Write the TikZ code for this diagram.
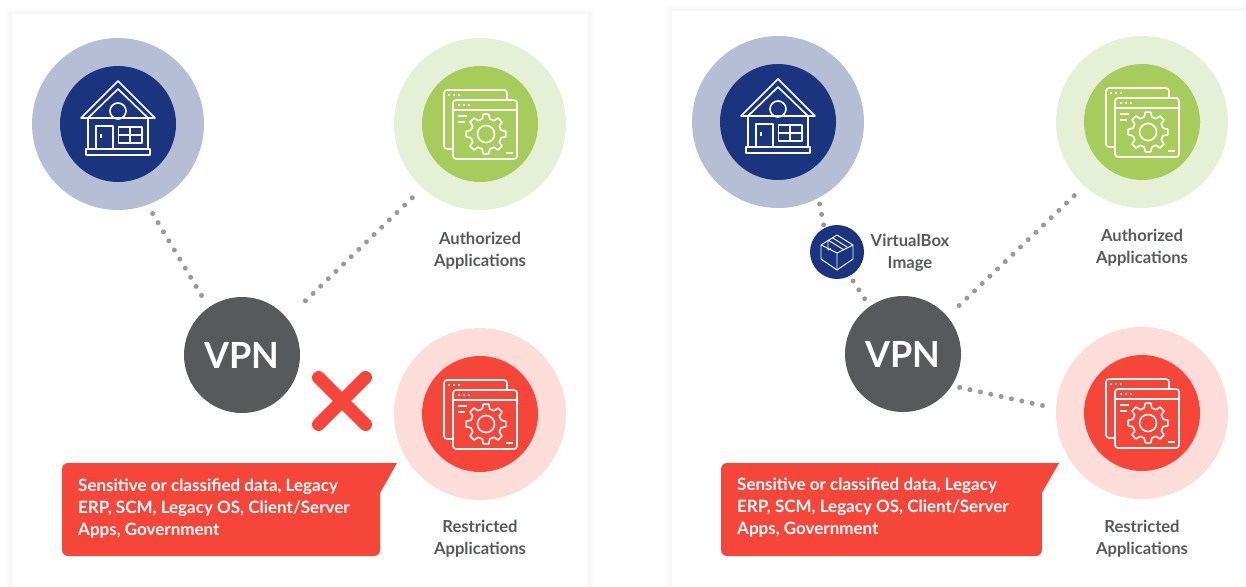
\documentclass[tikz,border=0pt]{standalone}
\usepackage{fontspec}
\setmainfont{Lato}
\definecolor{navy}{HTML}{1B3480}
\definecolor{navylight}{HTML}{B5BED4}
\definecolor{appgreen}{HTML}{A8CC5C}
\definecolor{greenlight}{HTML}{E6F0D6}
\definecolor{appred}{HTML}{F64539}
\definecolor{redlight}{HTML}{FCDDDA}
\definecolor{vpngray}{HTML}{58595B}
\definecolor{dotgray}{HTML}{999999}
\tikzset{
	ring/.style={circle, minimum size=172pt, inner sep=0pt, fill=#1},
	disc/.style={circle, minimum size=116pt, inner sep=0pt, fill=#1},
	vpnnode/.style={circle, minimum size=116pt, inner sep=0pt, fill=vpngray, text=white, font=\bfseries\fontsize{36}{40}\selectfont},
	boxnode/.style={circle, minimum size=54pt, inner sep=0pt, fill=navy},
	dots/.style={line width=5pt, line cap=round, dash pattern=on 0pt off 10.6pt, dotgray},
	caption/.style={align=center, inner sep=0pt, text=vpngray, font=\bfseries\fontsize{16.6}{22}\selectfont},
	notetext/.style={anchor=west, align=left, inner sep=0pt, text=white, font=\bfseries\fontsize{17}{22}\selectfont},
	icon/.style={white, line width=1.6pt, line join=round},
	pics/house/.style={code={
		\draw[icon] (-37,-6) -- (0,-43) -- (37,-6) -- cycle;
		\draw[icon] (-30,-6) -- (0,-35) -- (30,-6);
		\draw[icon] (-30,-6) -- (-30,25);
		\draw[icon] (30,-6) -- (30,25);
		\draw[icon] (-32,25) rectangle (32,31);
		\draw[icon] (-22,25) -- (-22,2) -- (-5,2) -- (-5,25);
		\draw[icon] (-17,10) -- (-17,14);
		\draw[icon] (0.5,3) rectangle (24,19);
		\draw[icon] (0.5,11) -- (24,11) (12,3) -- (12,19);
		\draw[icon] (0,-13) circle (8);
	}},
	pics/apps/.style={code={
		% back window
		\draw[icon, rounded corners=3pt] (-27,25) -- (-36,25) -- (-36,-34) -- (27,-34) -- (27,-24);
		\foreach \x in {-31,-26,-21} \fill[white] (\x,-29) circle (1.1);
		% front window
		\draw[icon, rounded corners=3pt] (-27,-24) rectangle (37,35);
		\draw[icon] (-27,-14) -- (37,-14);
		\foreach \x in {-21,-16,-11} \fill[white] (\x,-19) circle (1.1);
		\draw[icon] (-22,-8) -- (-13,-8) (-22,-2) -- (-15,-2) (26,29) -- (33,29);
		% gear
		\begin{scope}[shift={(6,10)}]
			\foreach \a in {0,45,...,315}
				\draw[icon] (\a-14:15.5) -- (\a-8:20) -- (\a+8:20) -- (\a+14:15.5) -- (\a+31:15.5);
			\draw[icon] (0,0) circle (8.5);
		\end{scope}
	}},
	pics/package/.style={code={
		\draw[white, line width=0.9pt, line join=round] (0,-17) -- (16,-7) -- (16,7) -- (0,18) -- (-16,7) -- (-16,-7) -- cycle;
		\draw[white, line width=0.9pt, line join=round] (-16,-7) -- (0,1) -- (16,-7) (0,1) -- (0,18);
		\draw[white, line width=0.9pt, line join=round] (-9,-12) -- (7,-2) (-5,-14.5) -- (10,-5) (-9,-12) -- (-9,-2) -- (-6,-3.5);
	}},
	pics/note/.style={code={
		\fill[appred] (335,0) -- (318,30) [rounded corners=6pt] -- (318,93) -- (0,93) -- (0,0) [sharp corners] -- cycle;
	}},
}
\begin{document}
\begin{tikzpicture}[x=1pt, y=-1pt]
	\useasboundingbox (0,0) rectangle (1246,586);

	% Panels
	\foreach \d/\s in {6/1, 4/2, 2/3}{
		\fill[black!\s] (12-\d,14-\d) rectangle (588+\d,586);
		\fill[black!\s] (672-\d,11-\d) rectangle (1246,586);
	}
	\fill[white] (12,14) rectangle (588,586);
	\fill[white] (672,11) rectangle (1246,586);

	% Left nodes
	\node[ring=navylight] (home) at (118,124) {};
	\node[disc=navy] (homecore) at (118,124) {};
	\pic at (homecore) {house};
	\node[ring=greenlight] (authorized) at (480,124) {};
	\node[disc=appgreen] (authorizedcore) at (480,124) {};
	\pic at (authorizedcore) {apps};
	\node[ring=redlight] (restricted) at (480,414) {};
	\node[disc=appred] (restrictedcore) at (480,414) {};
	\pic at (restrictedcore) {apps};
	\node[vpnnode] (vpn) at (242,355) {VPN};

	% Left connectors
	\draw[dots, shorten <=10pt, shorten >=4pt] (home.-70) -- (vpn.125);
	\draw[dots, shorten <=14pt, shorten >=15pt] (authorized.-132) -- (vpn.39);

	% Refused link
	\draw[appred, line width=13pt, line cap=round] (318.5,377.5) -- (365.5,424.5);
	\draw[appred, line width=13pt, line cap=round] (365.5,377.5) -- (318.5,424.5);

	% Left labels
	\node[caption] (authorizedlabel) at (480,250.5) {Authorized\\Applications};
	\node[caption] (restrictedlabel) at (480,539) {Restricted\\Applications};
	\pic at (62,463) {note};
	\node[notetext] (notetext) at (78,509) {Sensitive or classified data, Legacy\\ERP, SCM, Legacy OS, Client/Server\\Apps, Government};

	% Right nodes
	\node[ring=navylight] (homeb) at (778,122) {};
	\node[disc=navy] (homebcore) at (778,122) {};
	\pic at (homebcore) {house};
	\node[ring=greenlight] (authorizedb) at (1142,122) {};
	\node[disc=appgreen] (authorizedbcore) at (1142,122) {};
	\pic at (authorizedbcore) {apps};
	\node[ring=redlight] (restrictedb) at (1142,413) {};
	\node[disc=appred] (restrictedbcore) at (1142,413) {};
	\pic at (restrictedbcore) {apps};
	\node[vpnnode] (vpnb) at (903,354) {VPN};
	\node[boxnode] (image) at (837,252) {};
	\pic at (image) {package};

	% Right connectors
	\draw[dots, shorten <=6pt, shorten >=0pt] (homeb.-62) -- (image.118);
	\draw[dots, shorten <=6pt, shorten >=3pt] (image.-62) -- (vpnb.125);
	\draw[dots, shorten <=14pt, shorten >=14pt] (authorizedb.-132) -- (vpnb.40);
	\draw[dots, shorten <=8pt, shorten >=5pt] (vpnb.-33) -- (restrictedb.177);

	% Right labels
	\node[caption] (imagelabel) at (910,252.5) {VirtualBox\\Image};
	\node[caption] (authorizedblabel) at (1142,248) {Authorized\\Applications};
	\node[caption] (restrictedblabel) at (1142,539) {Restricted\\Applications};
	\pic[xscale=1.009] at (721,463) {note};
	\node[notetext] (notetextb) at (737,508) {Sensitive or classified data, Legacy\\ERP, SCM, Legacy OS, Client/Server\\Apps, Government};
\end{tikzpicture}
\end{document}
